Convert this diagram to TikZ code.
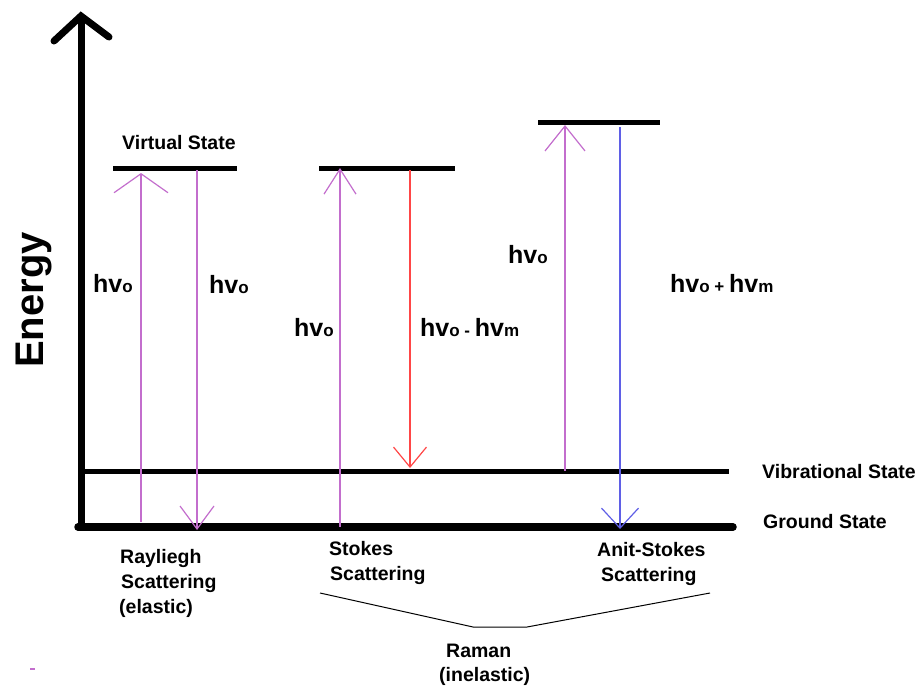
\documentclass[tikz,border=0pt]{standalone}
\usepackage{fontspec}
\setmainfont{Liberation Sans}
\usetikzlibrary{arrows.meta}
\definecolor{pur}{RGB}{195,110,205}
\definecolor{redarr}{RGB}{255,70,70}
\definecolor{bluearr}{RGB}{95,95,230}
\tikzset{
  lbl/.style={font=\bfseries\fontsize{19.5}{24}\selectfont, inner sep=0pt, anchor=base west},
  hv/.style={font=\bfseries\fontsize{25}{28}\selectfont, inner sep=0pt, anchor=base west},
  level/.style={line width=4.5pt, line cap=round},
  photon/.style={line width=1.2pt},
}
\newcommand{\sm}[1]{{\fontsize{17}{17}\selectfont #1}}
\begin{document}
\begin{tikzpicture}[x=1pt,y=-1pt]
\useasboundingbox (0,0) rectangle (917,686);
% axis
\coordinate (ax0) at (81,530);
\coordinate (axtop) at (81,16);
\coordinate (axl) at (54,41);
\coordinate (axr) at (109,37);
\draw[line width=7pt] (ax0) -- (axtop);
\draw[line width=7pt, line cap=round, line join=miter] (axl) -- (axtop) -- (axr);
% ground and vibrational
\coordinate (g0) at (78,527); \coordinate (g1) at (733,527);
\coordinate (v0) at (80,471.5); \coordinate (v1) at (729,471.5);
\draw[line width=7.5pt, line cap=round] (g0) -- (g1);
\draw[line width=4.5pt] (v0) -- (v1);
% virtual states
\coordinate (vs1a) at (113,168); \coordinate (vs1b) at (237,168);
\coordinate (vs2a) at (319,168); \coordinate (vs2b) at (455,168);
\coordinate (vs3a) at (538,122); \coordinate (vs3b) at (660,122);
\draw[line width=5pt] (vs1a) -- (vs1b);
\draw[line width=5pt] (vs2a) -- (vs2b);
\draw[line width=5pt] (vs3a) -- (vs3b);
% arrows
\coordinate (r1s) at (141,522); \coordinate (r1e) at (141,173);
\coordinate (r2s) at (197,170); \coordinate (r2e) at (197,530);
\coordinate (s1s) at (340,527); \coordinate (s1e) at (340,168);
\coordinate (s2s) at (410,170); \coordinate (s2e) at (410,468);
\coordinate (a1s) at (565,471); \coordinate (a1e) at (565,125);
\coordinate (a2s) at (620,127); \coordinate (a2e) at (620,529);
\draw[photon, pur, -{Straight Barb[length=19pt,width=54pt]}] (r1s) -- (r1e);
\draw[photon, pur, -{Straight Barb[length=23pt,width=34pt]}] (r2s) -- (r2e);
\draw[photon, pur, -{Straight Barb[length=25pt,width=32pt]}] (s1s) -- (s1e);
\draw[photon, redarr, -{Straight Barb[length=20pt,width=33pt]}] (s2s) -- (s2e);
\draw[photon, pur, -{Straight Barb[length=25pt,width=40pt]}] (a1s) -- (a1e);
\draw[photon, bluearr, -{Straight Barb[length=20pt,width=37pt]}] (a2s) -- (a2e);
% labels
\node[lbl] (vstate) at (122,149) {Virtual State};
\node[rotate=90, anchor=base west, inner sep=0pt, font=\bfseries\fontsize{40}{44}\selectfont] (energy) at (43,368) {Energy};
\node[hv] (h1) at (93,292) {hv\sm{o}};
\node[hv] (h2) at (209,293) {hv\sm{o}};
\node[hv] (h3) at (294,336) {hv\sm{o}};
\node[hv] (h4) at (420,336) {hv\sm{o - }hv\sm{m}};
\node[hv] (h5) at (508,263) {hv\sm{o}};
\node[hv] (h6) at (670,292) {hv\sm{o + }hv\sm{m}};
\node[lbl] (vib) at (762,478) {Vibrational State};
\node[lbl] (gnd) at (763,528) {Ground State};
\node[lbl] (ray1) at (120,563) {Rayliegh};
\node[lbl] (ray2) at (121,588) {Scattering};
\node[lbl] (ray3) at (119,613) {(elastic)};
\node[lbl] (st1) at (329,555) {Stokes};
\node[lbl] (st2) at (330,580) {Scattering};
\node[lbl] (as1) at (597,556) {Anit-Stokes};
\node[lbl] (as2) at (601,581) {Scattering};
\node[lbl] (ram1) at (446,657) {Raman};
\node[lbl] (ram2) at (439,681) {(inelastic)};
% brace
\coordinate (b0) at (320,593); \coordinate (b1) at (473,627);
\coordinate (b2) at (527,627); \coordinate (b3) at (710,593);
\draw[line width=1pt] (b0) -- (b1) -- (b2) -- (b3);
% stray mark
\coordinate (m0) at (30,669); \coordinate (m1) at (35,669);
\draw[pur, line width=2pt] (m0) -- (m1);
\end{tikzpicture}
\end{document}
